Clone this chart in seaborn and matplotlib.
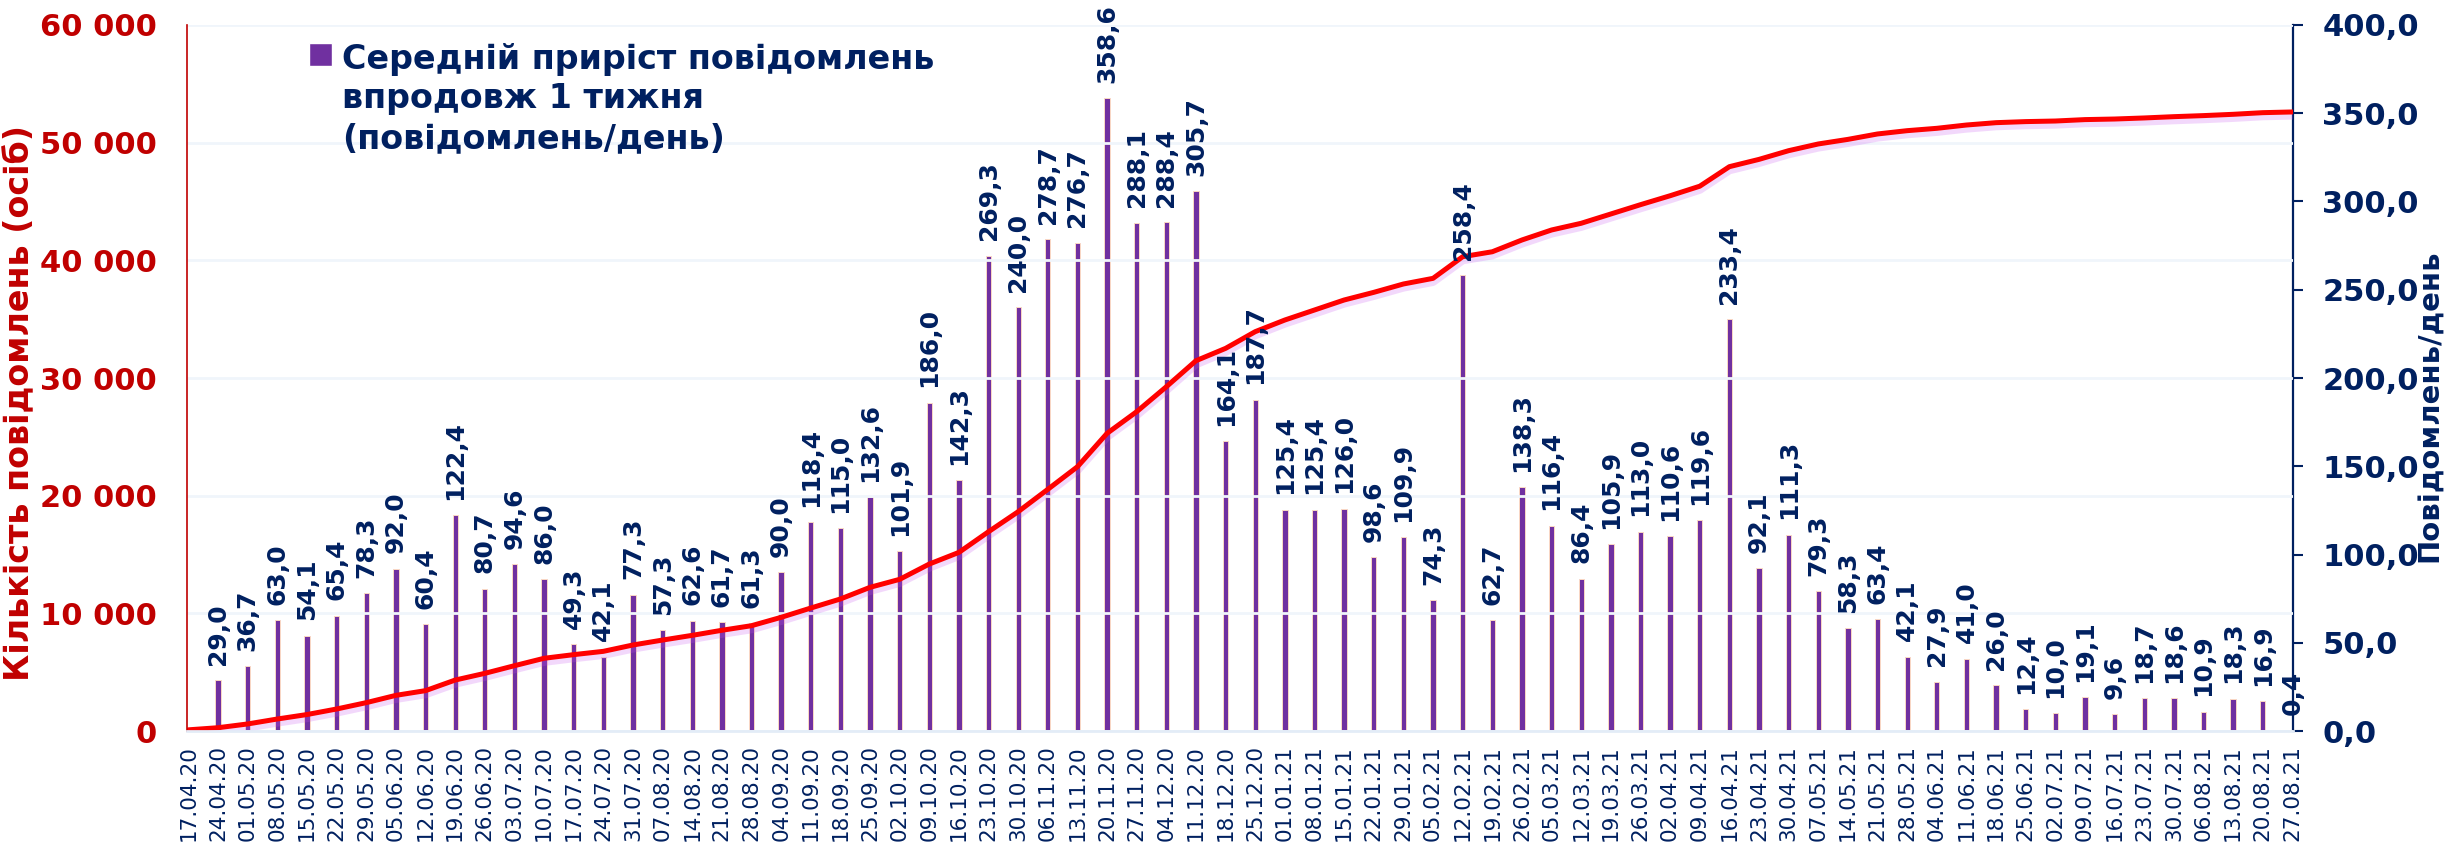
"""
Weekly reports chart: cumulative number of reports (line, left axis)
and average daily growth over one week (bars, right axis).
"""

import numpy as np
import pandas as pd
import matplotlib
matplotlib.use("Agg")
import matplotlib.pyplot as plt
import matplotlib.patheffects as pe
from matplotlib.patches import Patch
from matplotlib.ticker import FuncFormatter, MultipleLocator
from matplotlib import font_manager
import seaborn as sns

# ---------------------------------------------------------------------------
# Data
# ---------------------------------------------------------------------------

DATES = [
    "17.04.20", "24.04.20", "01.05.20", "08.05.20", "15.05.20", "22.05.20",
    "29.05.20", "05.06.20", "12.06.20", "19.06.20", "26.06.20", "03.07.20",
    "10.07.20", "17.07.20", "24.07.20", "31.07.20", "07.08.20", "14.08.20",
    "21.08.20", "28.08.20", "04.09.20", "11.09.20", "18.09.20", "25.09.20",
    "02.10.20", "09.10.20", "16.10.20", "23.10.20", "30.10.20", "06.11.20",
    "13.11.20", "20.11.20", "27.11.20", "04.12.20", "11.12.20", "18.12.20",
    "25.12.20", "01.01.21", "08.01.21", "15.01.21", "22.01.21", "29.01.21",
    "05.02.21", "12.02.21", "19.02.21", "26.02.21", "05.03.21", "12.03.21",
    "19.03.21", "26.03.21", "02.04.21", "09.04.21", "16.04.21", "23.04.21",
    "30.04.21", "07.05.21", "14.05.21", "21.05.21", "28.05.21", "04.06.21",
    "11.06.21", "18.06.21", "25.06.21", "02.07.21", "09.07.21", "16.07.21",
    "23.07.21", "30.07.21", "06.08.21", "13.08.21", "20.08.21", "27.08.21",
]

# cumulative number of reports (persons), left axis
TOTAL_REPORTS = [
    100, 280, 600, 1020, 1400, 1870, 2410, 3030, 3430, 4330, 4900, 5550,
    6180, 6490, 6770, 7310, 7730, 8130, 8560, 8950, 9660, 10450, 11220, 12210,
    12890, 14190, 15180, 16940, 18640, 20540, 22460, 25300, 27140, 29260, 31470, 32520,
    33940, 34930, 35780, 36630, 37280, 37990, 38470, 40310, 40730, 41730, 42580, 43150,
    43940, 44730, 45490, 46300, 47960, 48580, 49320, 49890, 50280, 50740, 51020, 51220,
    51500, 51700, 51790, 51840, 51960, 52010, 52100, 52210, 52300, 52410, 52550, 52610,
]

# average growth over one week (reports/day), right axis; no bar on 17.04.20
DAILY_GROWTH = [
    np.nan, 29.0, 36.7, 63.0, 54.1, 65.4, 78.3, 92.0, 60.4, 122.4, 80.7, 94.6,
    86.0, 49.3, 42.1, 77.3, 57.3, 62.6, 61.7, 61.3, 90.0, 118.4, 115.0, 132.6,
    101.9, 186.0, 142.3, 269.3, 240.0, 278.7, 276.7, 358.6, 288.1, 288.4, 305.7, 164.1,
    187.7, 125.4, 125.4, 126.0, 98.6, 109.9, 74.3, 258.4, 62.7, 138.3, 116.4, 86.4,
    105.9, 113.0, 110.6, 119.6, 233.4, 92.1, 111.3, 79.3, 58.3, 63.4, 42.1, 27.9,
    41.0, 26.0, 12.4, 10.0, 19.1, 9.6, 18.7, 18.6, 10.9, 18.3, 16.9, 0.4,
]

LEGEND_LABEL = "Середній приріст повідомлень\nвпродовж 1 тижня\n(повідомлень/день)"
LEFT_LABEL = "Кількість повідомлень (осіб)"
RIGHT_LABEL = "Повідомлень/день"

NAVY = "#002060"
DARK_RED = "#C00000"
PURPLE = "#7030A0"
LINE_RED = "#FF0000"

sns.set_style("white")
plt.rcParams["font.family"] = ["DejaVu Sans"]

installed = {f.name for f in font_manager.fontManager.ttflist}
NARROW = "Liberation Sans Narrow" if "Liberation Sans Narrow" in installed else "DejaVu Sans"


def thousands(v, _pos):
    return f"{int(round(v)):,}".replace(",", " ")


def one_decimal(v, _pos=None):
    return f"{v:.1f}".replace(".", ",")


def main():
    df = pd.DataFrame({
        "date": DATES,
        "pos": np.arange(len(DATES)),
        "total": TOTAL_REPORTS,
        "daily": DAILY_GROWTH,
    })
    bars = df.dropna(subset=["daily"])

    fig, ax = plt.subplots(figsize=(24.6, 8.55), dpi=100)
    fig.subplots_adjust(left=187 / 2460, right=2293 / 2460, bottom=124 / 855, top=830 / 855)
    ax2 = ax.twinx()

    # bars on the right axis
    sns.barplot(data=bars, x="pos", y="daily", native_scale=True, width=0.18,
                color=PURPLE, edgecolor="#FBD9C4", linewidth=0.7,
                saturation=1, errorbar=None, ax=ax2)

    # cumulative line on the left axis, drawn above the bars
    sns.lineplot(data=df, x="pos", y="total", color=LINE_RED, linewidth=3.6, ax=ax,
                 path_effects=[pe.SimpleLineShadow(offset=(0, -2.5), shadow_color="#C850F0",
                                                   alpha=0.22, linewidth=6),
                               pe.Normal()])
    ax.set_zorder(ax2.get_zorder() + 1)
    ax.patch.set_visible(False)

    # value labels sit on top of everything, so they belong to the upper axes
    # but use the bar axis' data coordinates
    for pos, val in zip(bars["pos"], bars["daily"]):
        ax.annotate(one_decimal(val), xy=(pos, val), xycoords=ax2.transData,
                    xytext=(0, 11), textcoords="offset points", rotation=90,
                    ha="center", va="bottom", color=NAVY, fontsize=18,
                    fontweight="bold", annotation_clip=False, zorder=5)

    # left axis
    ax.set_ylim(0, 60000)
    ax.yaxis.set_major_locator(MultipleLocator(10000))
    ax.yaxis.set_major_formatter(FuncFormatter(thousands))
    ax.tick_params(axis="y", length=0, pad=22, labelcolor=DARK_RED, labelsize=22)
    for t in ax.get_yticklabels():
        t.set_family(NARROW)
        t.set_fontweight("bold")
    ax.set_ylabel(LEFT_LABEL, color=DARK_RED, fontsize=24, fontweight="bold")
    ax.yaxis.set_label_coords(-0.0715, 0.465)
    ax.grid(axis="y", color="#F0F5FB", linewidth=2)

    # right axis
    ax2.set_ylim(0, 400)
    ax2.yaxis.set_major_locator(MultipleLocator(50))
    ax2.yaxis.set_major_formatter(FuncFormatter(one_decimal))
    ax2.tick_params(axis="y", length=7, width=1.5, color=NAVY, pad=14,
                    labelcolor=NAVY, labelsize=22, direction="out")
    for t in ax2.get_yticklabels():
        t.set_family(NARROW)
        t.set_fontweight("bold")
    ax2.set_ylabel(RIGHT_LABEL, color=NAVY, fontsize=21, fontweight="bold")
    ax2.yaxis.set_label_coords(1.0585, 0.46)

    # categories along the bottom
    ax.set_xticks(df["pos"])
    ax.set_xticklabels(df["date"], rotation=90, color=NAVY, fontsize=15.5)
    ax.tick_params(axis="x", length=0, pad=10)
    ax.set_xlim(-0.05, 71.02)
    ax.set_xlabel("")
    ax2.set_xlabel("")

    for name in ["top", "right"]:
        ax.spines[name].set_visible(False)
    ax.spines["left"].set_color(DARK_RED)
    ax.spines["left"].set_linewidth(1.2)
    ax.spines["bottom"].set_color("#E3ECF7")
    ax.spines["bottom"].set_linewidth(2)
    for name in ["top", "left", "bottom"]:
        ax2.spines[name].set_visible(False)
    ax2.spines["right"].set_color(NAVY)
    ax2.spines["right"].set_linewidth(1.6)

    leg = ax.legend(handles=[Patch(facecolor=PURPLE)], labels=[LEGEND_LABEL],
                    loc="upper left", bbox_to_anchor=(309 / 2460, 0.95),
                    bbox_transform=fig.transFigure, frameon=False, borderpad=0,
                    borderaxespad=0, handlelength=0.7, handleheight=0.7,
                    handletextpad=0.3, prop={"size": 24, "weight": "bold"})
    for t in leg.get_texts():
        t.set_color(NAVY)
        t.set_linespacing(1.25)
    # put the square next to the first line of the label, not the middle one
    for column in leg._legend_handle_box.get_children():
        for row in column.get_children():
            row.align = "top"

    fig.savefig("out.png", dpi=100)


if __name__ == "__main__":
    main()
